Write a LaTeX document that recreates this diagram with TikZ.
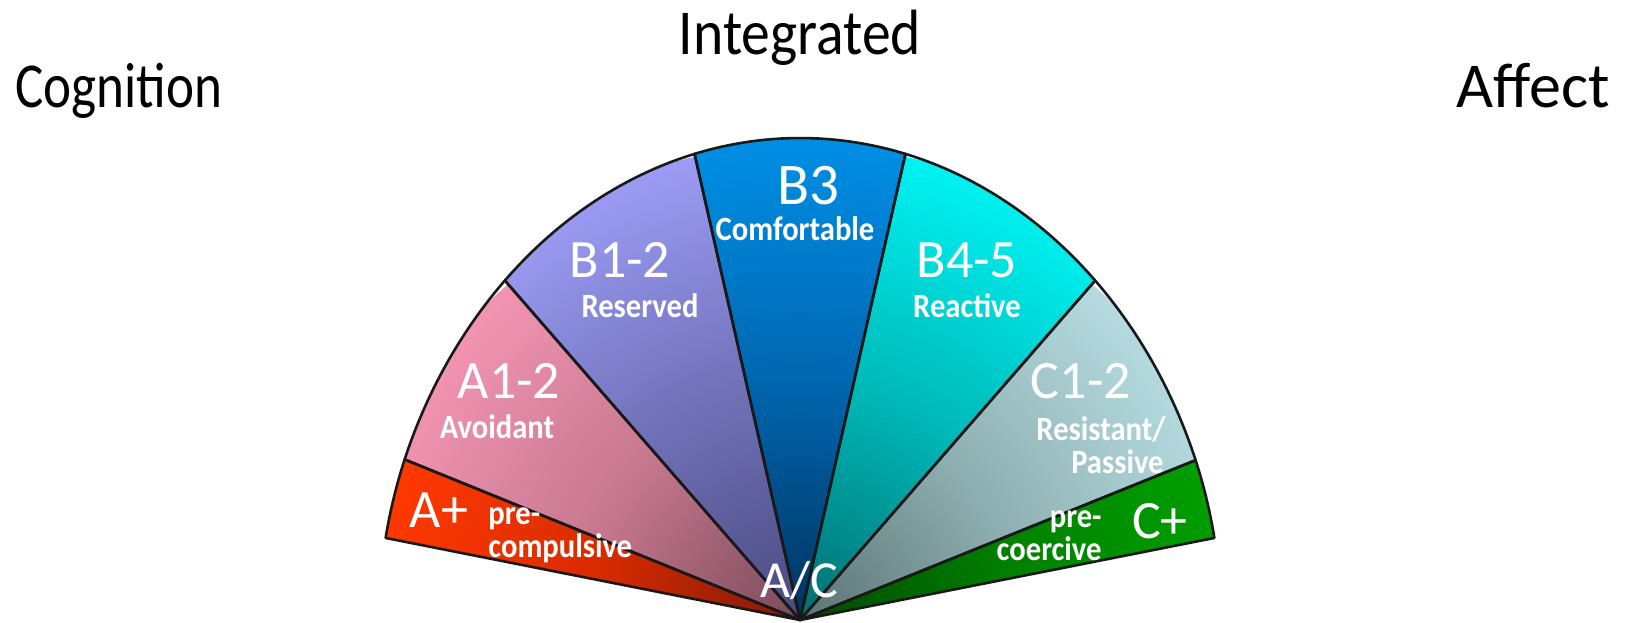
\documentclass[tikz,border=0pt]{standalone}
\usepackage{fontspec}
\usepackage{graphicx}
\setmainfont{Carlito}
\newfontfamily\narrowfont[FakeStretch=0.9]{Carlito}
\pgfdeclareradialshading{shAp}{\pgfpoint{0bp}{0bp}}{rgb(0bp)=(0.50,0.10,0.02); rgb(12.5bp)=(0.85,0.17,0.0); rgb(25bp)=(1.0,0.22,0.0); rgb(50bp)=(1.0,0.22,0.0)}
\pgfdeclareradialshading{shAo}{\pgfpoint{0bp}{0bp}}{rgb(0bp)=(0.48,0.29,0.35); rgb(12.5bp)=(0.78,0.47,0.56); rgb(25bp)=(0.95,0.58,0.70); rgb(50bp)=(0.95,0.58,0.70)}
\pgfdeclareradialshading{shBa}{\pgfpoint{0bp}{0bp}}{rgb(0bp)=(0.29,0.29,0.50); rgb(12.5bp)=(0.44,0.44,0.72); rgb(25bp)=(0.61,0.61,0.96); rgb(50bp)=(0.61,0.61,0.96)}
\pgfdeclareradialshading{shBb}{\pgfpoint{0bp}{0bp}}{rgb(0bp)=(0.0,0.20,0.37); rgb(12.5bp)=(0.0,0.40,0.69); rgb(25bp)=(0.0,0.56,0.90); rgb(50bp)=(0.0,0.56,0.90)}
\pgfdeclareradialshading{shBc}{\pgfpoint{0bp}{0bp}}{rgb(0bp)=(0.0,0.43,0.44); rgb(12.5bp)=(0.0,0.72,0.72); rgb(25bp)=(0.0,0.95,0.95); rgb(50bp)=(0.0,0.95,0.95)}
\pgfdeclareradialshading{shCo}{\pgfpoint{0bp}{0bp}}{rgb(0bp)=(0.36,0.45,0.45); rgb(12.5bp)=(0.56,0.69,0.70); rgb(25bp)=(0.71,0.86,0.88); rgb(50bp)=(0.71,0.86,0.88)}
\pgfdeclareradialshading{shCp}{\pgfpoint{0bp}{0bp}}{rgb(0bp)=(0.0,0.28,0.0); rgb(12.5bp)=(0.0,0.50,0.0); rgb(25bp)=(0.0,0.62,0.0); rgb(50bp)=(0.0,0.62,0.0)}
\tikzset{
  biglab/.style={text=white, font=\fontsize{27}{30}\selectfont, inner sep=0pt, anchor=base},
  smalllab/.style={text=white, font=\narrowfont\bfseries\fontsize{17}{19}\selectfont, inner sep=0pt, anchor=base},
  headlab/.style={text=black, font=\fontsize{32}{36}\selectfont, inner sep=0pt, anchor=base},
  sliceedge/.style={draw=black!90, line width=1.3pt, line join=round},
}
\newcommand\fanslice[4]{%
  \begin{scope}
    \clip (apex) -- plot[domain=#1:#2, samples=30, variable=\t] ({800+rr(\t)*cos(\t)}, {620-rr(\t)*sin(\t)}) -- cycle;
    \shade[shading=#3] (apex) circle[radius=#4];
  \end{scope}
}
\newcommand\sliceoutline[2]{%
  \draw[sliceedge] (apex) -- plot[domain=#1:#2, samples=30, variable=\t] ({800+rr(\t)*cos(\t)}, {620-rr(\t)*sin(\t)}) -- cycle;
}
\begin{document}
\begin{tikzpicture}[x=0.5pt, y=-0.5pt,
  declare function={rr(\t)=421+61*sin(\t)*sin(\t)-6*sin(2*\t)*sin(2*\t);}]
\useasboundingbox (0,0) rectangle (1627,622);
\coordinate (apex) at (800,620);
% slices
\fanslice{168.8}{157.9}{shAp}{425}
\fanslice{157.9}{131.0}{shAo}{445}
\fanslice{131.0}{102.75}{shBa}{475}
\fanslice{102.75}{77.25}{shBb}{482}
\fanslice{77.25}{49.0}{shBc}{475}
\fanslice{49.0}{22.0}{shCo}{445}
\fanslice{22.0}{11.2}{shCp}{425}
\sliceoutline{168.8}{157.9}
\sliceoutline{157.9}{131.0}
\sliceoutline{131.0}{102.75}
\sliceoutline{102.75}{77.25}
\sliceoutline{77.25}{49.0}
\sliceoutline{49.0}{22.0}
\sliceoutline{22.0}{11.2}
% headers
\node[headlab] (integrated) at (800,54) {\scalebox{0.9}[1]{Integrated}};
\node[headlab] (cognition) at (119,107) {\scalebox{0.83}[1]{Cognition}};
\node[headlab] (affect) at (1533,107) {Affect};
% slice labels
\node[biglab] (aplus) at (439,527) {A+};
\node[smalllab, anchor=base west] (prel) at (488,524) {pre-};
\node[smalllab, anchor=base west] (compulsive) at (488,557) {compulsive};
\node[biglab] (a12) at (509,398) {A1-2};
\node[smalllab] (avoidant) at (497,438) {Avoidant};
\node[biglab] (b12) at (620,277) {B1-2};
\node[smalllab] (reserved) at (640,317) {Reserved};
\node[biglab, font=\fontsize{29.5}{32}\selectfont] (b3) at (808,204) {B3};
\node[smalllab] (comfortable) at (795,240) {Comfortable};
\node[biglab] (b45) at (967,277) {B4-5};
\node[smalllab] (reactive) at (967,317) {Reactive};
\node[biglab] (c12) at (1081,398) {C1-2};
\node[smalllab] (resistant) at (1101,440) {Resistant/};
\node[smalllab, anchor=base east] (passive) at (1164,473) {Passive};
\node[biglab] (cplus) at (1160,538) {C+};
\node[smalllab, anchor=base east] (prer) at (1102,527) {pre-};
\node[smalllab, anchor=base east] (coercive) at (1102,560) {coercive};
\node[biglab, font=\fontsize{26}{28}\selectfont] (ac) at (799,597) {A/C};
\end{tikzpicture}
\end{document}
